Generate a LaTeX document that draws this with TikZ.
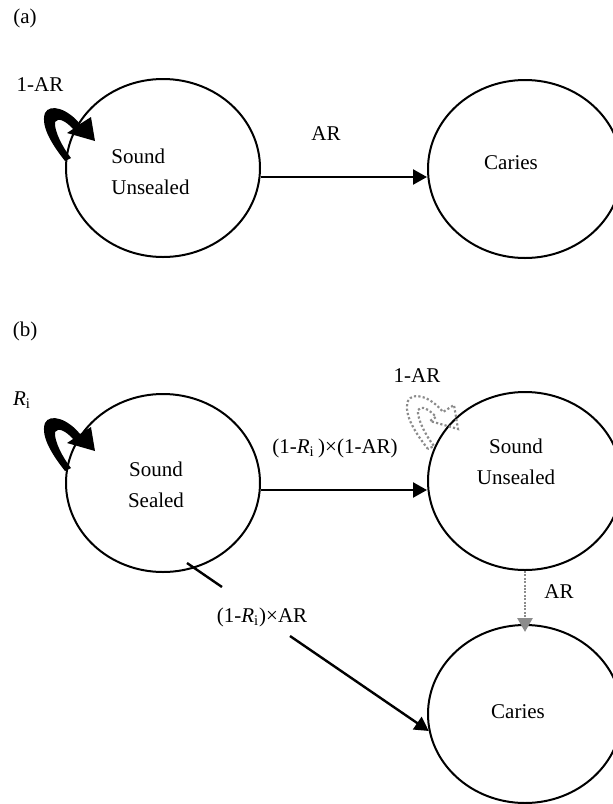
\documentclass[tikz,border=0pt]{standalone}
\usepackage{fontspec}
\setmainfont{Liberation Serif}
\usetikzlibrary{shapes.geometric,arrows.meta,calc}
\definecolor{lg}{RGB}{140,140,140}
\tikzset{
  loopshape/.pic={
    \path[pic actions] (65,161) .. controls (54,147) and (40,127) .. (45,113)
      .. controls (50,103) and (68,109) .. (80,124) -- (91,117) -- (95,141) -- (67,133) -- (73,129)
      .. controls (66,121) and (58,117) .. (55,122)
      .. controls (54,131) and (63,148) .. (71,158) -- cycle;
  }
}
\begin{document}
\begin{tikzpicture}[x=0.5pt,y=-0.5pt,
  font=\fontsize{10.5}{15.5}\selectfont,
  state/.style={ellipse,draw,line width=1pt,minimum width=97pt,minimum height=89pt,inner sep=0pt},
  txt/.style={inner sep=0pt},
  conn/.style={line width=1.2pt,-{Triangle[length=7pt,width=7.5pt]}},
  gconn/.style={draw=lg,line width=1.4pt,dash pattern=on 1pt off 0.7pt,-{Triangle[length=7pt,width=7.5pt,fill=lg]}}
]
\path[use as bounding box] (0,0) rectangle (613,804);

% ---------- (a)
\node[txt] (la) at (25,18) {(a)};
\node[state] (A1) at (163,168) {};
\node[state] (A2) at (525,169) {};
\node[txt,align=left,anchor=west] (tA1) at (111,172) {Sound\\Unsealed};
\node[txt] (tA2) at (511,163) {Caries};
\draw[conn] ([yshift=-4.5pt]A1.east) coordinate (h0) -- (h0 -| A2.west);
\node[txt] (lAR) at (326,134) {AR};
\node[txt] (l1AR) at (40,85) {1-AR};
\pic[fill=black] (loopA) at (0,0) {loopshape};

% ---------- (b)
\node[txt] (lb) at (25,331) {(b)};
\node[state] (B1) at (163,483) {};
\node[state] (B2) at (525,481) {};
\node[state] (B3) at (525,714) {};
\node[txt,align=center] (tB1) at (156,485) {Sound\\Sealed};
\node[txt,align=center] (tB2) at (516,462) {Sound\\Unsealed};
\node[txt] (tB3) at (518,712) {Caries};

\pic[fill=black] (loopB) at (0,310) {loopshape};
\node[txt] (lRi) at (22,400) {\textit{R}\textsubscript{i}};

\pic[draw=lg,line width=1.1pt,dash pattern=on 1.1pt off 1.1pt] (loopC) at (363,288) {loopshape};
\node[txt] (l1ARb) at (417,376) {1-AR};

\draw[conn] ([yshift=-3.5pt]B1.east) coordinate (h1) -- (h1 -| B2.west);
\node[txt] (lh) at (335,448) {(1-\textit{R}\textsubscript{i}\,)×(1-AR)};

\draw[gconn] (B2.south) -- ([yshift=-4pt]B3.north);
\node[txt] (lv) at (559,592) {AR};

\coordinate (d0) at (187,563);
\coordinate (d1) at (222,587);
\coordinate (d2) at (290,636);
\draw[line width=1.2pt] (d0) -- (d1);
\draw[conn] (d2) -- (B3.190);
\node[txt] (ld) at (262,617) {(1-\textit{R}\textsubscript{i})×AR};
\end{tikzpicture}
\end{document}
